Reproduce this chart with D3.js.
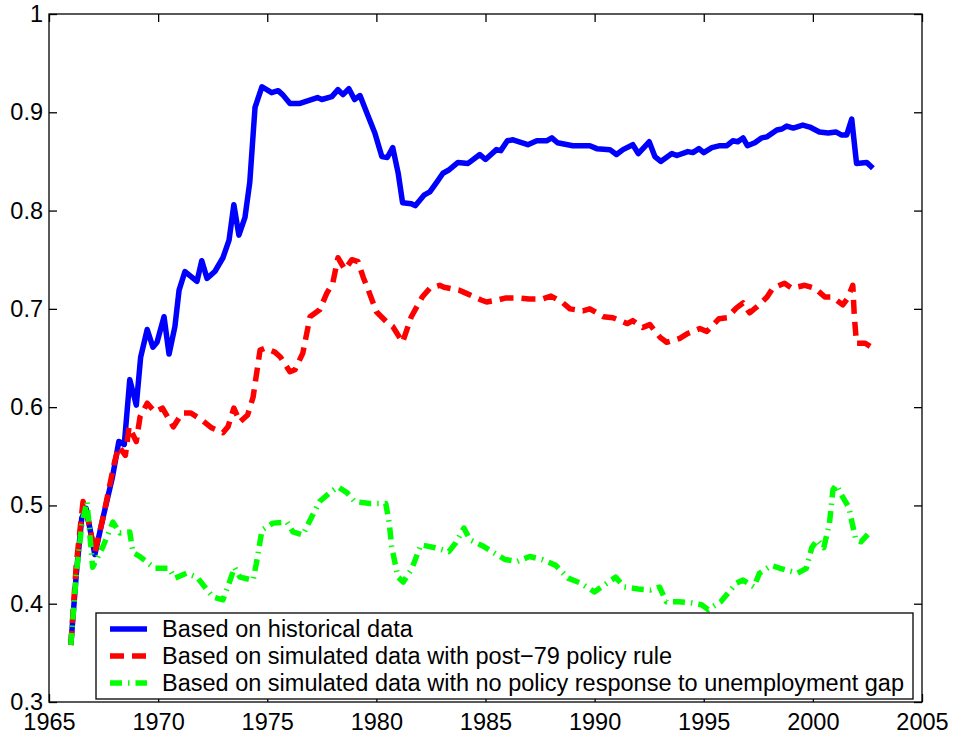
<!DOCTYPE html>
<html>
<head>
<meta charset="utf-8">
<script src="https://cdn.jsdelivr.net/npm/d3@7"></script>
<style>
  body { margin: 0; background: #fff; }
  svg { display: block; }
  text { font-family: "Liberation Sans", Arial, sans-serif; fill: #000; }
</style>
</head>
<body>
<div id="chart"></div>
<script>
const W = 954, H = 736;

// plot box
const box = { left: 49, right: 922, top: 14, bottom: 702 };

const xTicks = [1965, 1970, 1975, 1980, 1985, 1990, 1995, 2000, 2005];
const yTicks = [0.3, 0.4, 0.5, 0.6, 0.7, 0.8, 0.9, 1];
const yTickLabels = ["0.3", "0.4", "0.5", "0.6", "0.7", "0.8", "0.9", "1"];

const seriesNames = [
  "Based on historical data",
  "Based on simulated data with post\u221279 policy rule",
  "Based on simulated data with no policy response to unemployment gap"
];

// [year, value]
const historical = [
  [1966.0, 0.358], [1966.25, 0.43], [1966.5, 0.487], [1966.7, 0.497], [1967.1, 0.45],
  [1967.5, 0.49], [1967.9, 0.528], [1968.2, 0.565], [1968.45, 0.562], [1968.7, 0.628],
  [1969.0, 0.602], [1969.2, 0.651], [1969.5, 0.679], [1969.76, 0.661], [1969.95, 0.666],
  [1970.27, 0.692], [1970.5, 0.654], [1970.77, 0.682], [1970.96, 0.719], [1971.23, 0.738],
  [1971.78, 0.728], [1972.0, 0.749], [1972.24, 0.731], [1972.6, 0.738], [1972.97, 0.752],
  [1973.25, 0.770], [1973.47, 0.806], [1973.7, 0.775], [1973.98, 0.793], [1974.2, 0.829],
  [1974.44, 0.905], [1974.76, 0.926], [1975.2, 0.920], [1975.5, 0.922], [1975.7, 0.918],
  [1976.04, 0.909], [1976.5, 0.909], [1977.3, 0.915], [1977.5, 0.913], [1977.96, 0.916],
  [1978.24, 0.923], [1978.47, 0.918], [1978.74, 0.924], [1979.0, 0.913], [1979.25, 0.917],
  [1979.57, 0.899], [1979.93, 0.879], [1980.25, 0.855], [1980.5, 0.854], [1980.75, 0.864],
  [1981.0, 0.838], [1981.2, 0.808], [1981.6, 0.807], [1981.78, 0.805], [1982.2, 0.816],
  [1982.45, 0.819], [1982.77, 0.829], [1983.05, 0.838], [1983.3, 0.841], [1983.74, 0.849],
  [1984.2, 0.848], [1984.74, 0.857], [1985.0, 0.852], [1985.5, 0.862], [1985.7, 0.861],
  [1986.0, 0.871], [1986.26, 0.872], [1986.94, 0.867], [1987.35, 0.871], [1987.8, 0.871],
  [1988.04, 0.874], [1988.3, 0.869], [1989.0, 0.866], [1989.78, 0.866], [1990.1, 0.863],
  [1990.7, 0.862], [1991.0, 0.857], [1991.3, 0.862], [1991.75, 0.867], [1992.0, 0.858],
  [1992.5, 0.870], [1992.76, 0.855], [1993.03, 0.850], [1993.54, 0.858], [1993.77, 0.856],
  [1994.27, 0.860], [1994.5, 0.859], [1994.78, 0.863], [1995.0, 0.859], [1995.37, 0.864],
  [1995.74, 0.866], [1996.06, 0.866], [1996.33, 0.871], [1996.56, 0.870], [1996.8, 0.874],
  [1997.0, 0.866], [1997.34, 0.869], [1997.66, 0.874], [1997.9, 0.875], [1998.35, 0.882],
  [1998.58, 0.883], [1998.8, 0.886], [1999.1, 0.884], [1999.54, 0.887], [1999.86, 0.885],
  [2000.3, 0.880], [2000.7, 0.879], [2001.05, 0.880], [2001.3, 0.877], [2001.55, 0.877],
  [2001.78, 0.893], [2002.0, 0.848], [2002.47, 0.849], [2002.75, 0.843]
];

const post79 = [
  [1966.0, 0.358], [1966.25, 0.44], [1966.56, 0.504], [1966.75, 0.49], [1967.1, 0.452],
  [1967.5, 0.49], [1968.0, 0.544], [1968.2, 0.56], [1968.5, 0.551], [1968.67, 0.58],
  [1969.0, 0.565], [1969.17, 0.59], [1969.5, 0.604], [1969.85, 0.595], [1970.2, 0.599],
  [1970.7, 0.58], [1971.1, 0.594], [1971.5, 0.594], [1972.0, 0.587], [1972.45, 0.579],
  [1972.97, 0.574], [1973.2, 0.580], [1973.47, 0.599], [1973.75, 0.585], [1974.1, 0.592],
  [1974.35, 0.610], [1974.67, 0.658], [1974.9, 0.660], [1975.35, 0.656], [1975.6, 0.651],
  [1976.04, 0.636], [1976.27, 0.638], [1976.63, 0.655], [1976.96, 0.692], [1977.4, 0.699],
  [1977.73, 0.716], [1978.0, 0.726], [1978.24, 0.752], [1978.56, 0.740], [1978.88, 0.750],
  [1979.16, 0.748], [1979.4, 0.732], [1979.6, 0.721], [1980.0, 0.697], [1980.5, 0.686],
  [1980.75, 0.682], [1981.2, 0.666], [1981.6, 0.692], [1982.1, 0.712], [1982.45, 0.721],
  [1982.9, 0.724], [1983.1, 0.722], [1983.8, 0.719], [1984.1, 0.716], [1984.8, 0.709],
  [1985.05, 0.707], [1985.56, 0.709], [1985.9, 0.711], [1986.5, 0.711], [1987.0, 0.710],
  [1987.6, 0.710], [1988.0, 0.713], [1988.5, 0.707], [1988.87, 0.700], [1989.46, 0.698],
  [1989.78, 0.700], [1990.4, 0.692], [1990.84, 0.691], [1991.5, 0.685], [1991.75, 0.688],
  [1992.2, 0.681], [1992.53, 0.684], [1993.0, 0.671], [1993.3, 0.666], [1993.9, 0.670],
  [1994.27, 0.675], [1994.82, 0.680], [1995.14, 0.677], [1995.7, 0.690], [1996.06, 0.691],
  [1996.5, 0.701], [1996.8, 0.706], [1997.1, 0.696], [1997.43, 0.702], [1997.9, 0.712],
  [1998.16, 0.721], [1998.7, 0.726], [1999.04, 0.721], [1999.63, 0.724], [2000.1, 0.721],
  [2000.55, 0.712], [2000.9, 0.712], [2001.37, 0.704], [2001.6, 0.711], [2001.83, 0.724],
  [2001.9, 0.692], [2002.0, 0.665], [2002.4, 0.665], [2002.75, 0.660]
];

const noGap = [
  [1966.0, 0.358], [1966.25, 0.43], [1966.5, 0.48], [1966.74, 0.504], [1967.0, 0.437],
  [1967.47, 0.458], [1967.93, 0.483], [1968.25, 0.472], [1968.7, 0.473], [1968.85, 0.452],
  [1969.17, 0.448], [1969.85, 0.436], [1970.5, 0.436], [1970.77, 0.426], [1971.3, 0.431],
  [1971.78, 0.427], [1972.5, 0.407], [1972.97, 0.404], [1973.3, 0.424], [1973.5, 0.437],
  [1973.75, 0.427], [1974.35, 0.424], [1974.5, 0.441], [1974.76, 0.475], [1975.26, 0.482],
  [1975.9, 0.483], [1976.18, 0.473], [1976.63, 0.470], [1976.96, 0.485], [1977.4, 0.504],
  [1977.87, 0.513], [1978.24, 0.519], [1978.65, 0.513], [1979.0, 0.504], [1979.7, 0.502],
  [1980.07, 0.502], [1980.43, 0.502], [1980.59, 0.482], [1980.7, 0.458], [1980.99, 0.427],
  [1981.23, 0.422], [1981.63, 0.436], [1982.04, 0.460], [1982.68, 0.457], [1983.32, 0.453],
  [1983.64, 0.462], [1984.01, 0.477], [1984.29, 0.465], [1984.85, 0.459], [1985.89, 0.445],
  [1986.46, 0.443], [1987.02, 0.448], [1987.58, 0.445], [1988.22, 0.439], [1988.78, 0.426],
  [1989.35, 0.421], [1989.99, 0.412], [1990.31, 0.417], [1990.96, 0.427], [1991.36, 0.417],
  [1992.0, 0.415], [1992.56, 0.414], [1992.97, 0.417], [1993.29, 0.402], [1993.85, 0.402],
  [1994.4, 0.401], [1994.9, 0.399], [1995.2, 0.394], [1995.78, 0.402], [1996.5, 0.421],
  [1996.8, 0.424], [1997.3, 0.417], [1997.55, 0.431], [1998.1, 0.439], [1998.5, 0.436],
  [1999.3, 0.431], [1999.7, 0.436], [1999.95, 0.457], [2000.2, 0.465], [2000.5, 0.457],
  [2000.76, 0.482], [2000.92, 0.516], [2001.08, 0.521], [2001.3, 0.511], [2001.65, 0.498],
  [2001.8, 0.482], [2001.97, 0.465], [2002.2, 0.463], [2002.7, 0.475]
];

const styles = [
  { color: "#0000ff", dash: null },
  { color: "#ff0000", dash: "14,8" },
  { color: "#00ff00", dash: "12,6,1.5,6" }
];
const lineW = 5.5;
const fontSize = 23.5;

const svg = d3.select("#chart").append("svg")
  .attr("width", W).attr("height", H);

const x = d3.scaleLinear().domain([1965, 2005]).range([box.left, box.right]);
const y = d3.scaleLinear().domain([0.3, 1]).range([box.bottom, box.top]);

const tickLen = 8;

// axes, ticks pointing inward like matlab
const xAxis = svg.append("g")
  .attr("transform", `translate(0,${box.bottom})`)
  .call(d3.axisBottom(x).tickValues(xTicks).tickFormat(d3.format("d"))
    .tickSizeInner(-tickLen).tickSizeOuter(0).tickPadding(11));
const yAxis = svg.append("g")
  .attr("transform", `translate(${box.left},0)`)
  .call(d3.axisLeft(y).tickValues(yTicks).tickFormat((d, i) => yTickLabels[i])
    .tickSizeInner(-tickLen).tickSizeOuter(0).tickPadding(6));
const xTop = svg.append("g")
  .attr("transform", `translate(0,${box.top})`)
  .call(d3.axisTop(x).tickValues(xTicks).tickFormat("")
    .tickSizeInner(-tickLen).tickSizeOuter(0));
const yRight = svg.append("g")
  .attr("transform", `translate(${box.right},0)`)
  .call(d3.axisRight(y).tickValues(yTicks).tickFormat("")
    .tickSizeInner(-tickLen).tickSizeOuter(0));

[xAxis, yAxis, xTop, yRight].forEach(a => {
  a.select(".domain").remove();
  a.selectAll(".tick line").attr("stroke", "#000").attr("stroke-width", 1.3);
  a.selectAll(".tick text")
    .attr("font-size", fontSize)
    .attr("font-family", "Liberation Sans, Arial, sans-serif")
    .attr("fill", "#000");
});

// clip lines to the box
svg.append("clipPath").attr("id", "plotclip")
  .append("rect")
  .attr("x", box.left).attr("y", box.top)
  .attr("width", box.right - box.left).attr("height", box.bottom - box.top);

const line = d3.line().x(d => x(d[0])).y(d => y(d[1]));

const plot = svg.append("g").attr("clip-path", "url(#plotclip)");
[historical, post79, noGap].forEach((data, i) => {
  plot.append("path")
    .attr("d", line(data))
    .attr("fill", "none")
    .attr("stroke", styles[i].color)
    .attr("stroke-width", lineW)
    .attr("stroke-linejoin", "round")
    .attr("stroke-dasharray", styles[i].dash);
});

// box
svg.append("rect")
  .attr("x", box.left).attr("y", box.top)
  .attr("width", box.right - box.left).attr("height", box.bottom - box.top)
  .attr("fill", "none").attr("stroke", "#000").attr("stroke-width", 1.3);

// legend
const lg = { x: 96, y: 613, w: 817, h: 86, rowH: 27, first: 16 };
const leg = svg.append("g").attr("transform", `translate(${lg.x},${lg.y})`);
leg.append("rect")
  .attr("width", lg.w).attr("height", lg.h)
  .attr("fill", "#fff").attr("stroke", "#000").attr("stroke-width", 1.3);

seriesNames.forEach((name, i) => {
  const ry = lg.first + i * lg.rowH;
  leg.append("line")
    .attr("x1", 14).attr("x2", 51).attr("y1", ry).attr("y2", ry)
    .attr("stroke", styles[i].color)
    .attr("stroke-width", lineW)
    .attr("stroke-dasharray", styles[i].dash);
  leg.append("text")
    .attr("x", 66).attr("y", ry)
    .attr("dy", "0.36em")
    .attr("font-size", fontSize)
    .text(name);
});
</script>
</body>
</html>
